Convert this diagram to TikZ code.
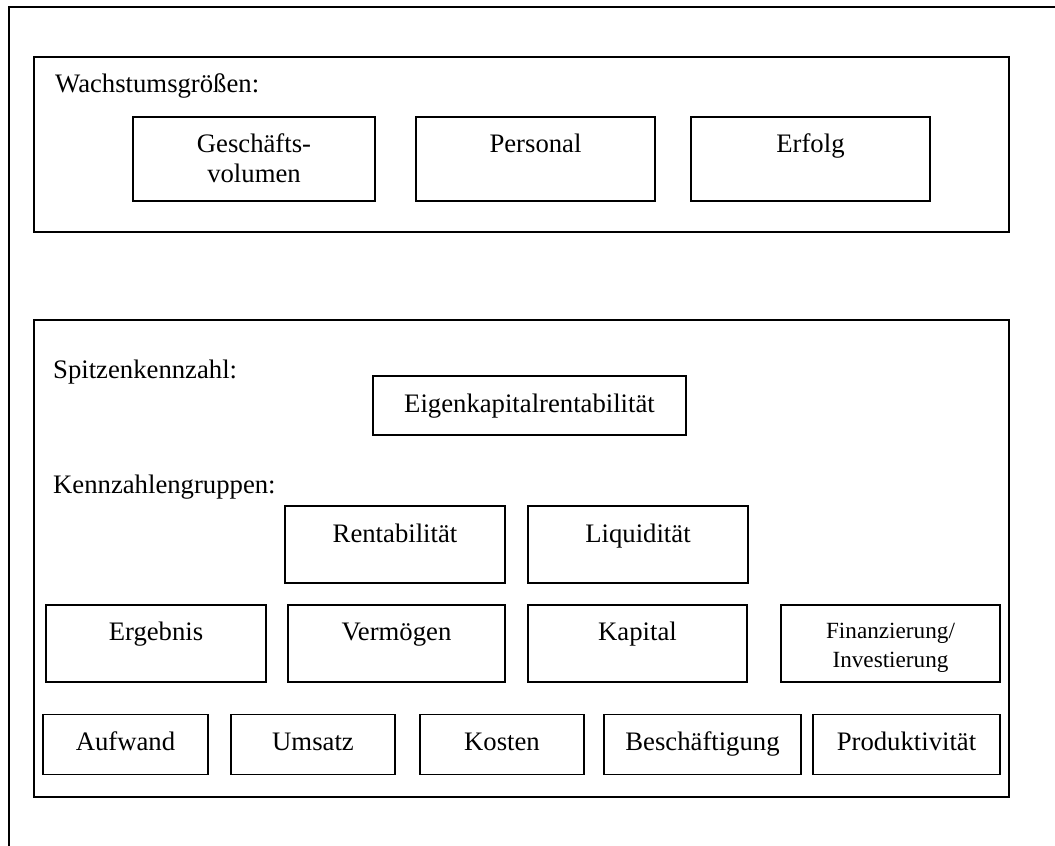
\documentclass[tikz,border=0pt]{standalone}
\usepackage{fontspec}
\setmainfont{Liberation Serif}
\begin{document}
\begin{tikzpicture}[x=1pt,y=-1pt,
  frame/.style={line width=2pt},
  box/.style={draw,line width=1.8pt,inner sep=0pt,outer sep=0pt},
  txt/.style={anchor=base,inner sep=0pt,font=\fontsize{26.7}{30}\selectfont},
  smalltxt/.style={anchor=base,inner sep=0pt,font=\fontsize{23.2}{29}\selectfont},
  lbl/.style={anchor=base west,inner sep=0pt,font=\fontsize{26.7}{30}\selectfont}]
\useasboundingbox (0,0) rectangle (1055,846);
% outer frame (open at right and bottom)
\draw[frame] (9,846) -- (9,7) -- (1056,7);
% group boxes
\node[box,minimum width=975pt,minimum height=175pt] (wbox) at (521.5,144.5) {};
\node[box,minimum width=975pt,minimum height=477pt] (kbox) at (521.5,558.5) {};
% labels
\node[lbl] (lw) at (55,92) {Wachstumsgrößen:};
\node[lbl] (ls) at (53,378) {Spitzenkennzahl:};
\node[lbl] (lk) at (53,493) {Kennzahlengruppen:};
% Wachstumsgrößen
\node[box,minimum width=242pt,minimum height=84pt] (gv) at (254,159) {};
\node[txt] (gvt1) at (254,152) {Geschäfts-};
\node[txt] (gvt2) at (254,182) {volumen};
\node[box,minimum width=239pt,minimum height=84pt] (pe) at (535.5,159) {};
\node[txt] (pet) at (535.5,152) {Personal};
\node[box,minimum width=239pt,minimum height=84pt] (er) at (810.5,159) {};
\node[txt] (ert) at (810.5,152) {Erfolg};
% Spitzenkennzahl
\node[box,minimum width=313pt,minimum height=59pt] (ek) at (529.5,405.5) {};
\node[txt] (ekt) at (529.5,412) {Eigenkapitalrentabilität};
% row 1
\node[box,minimum width=220pt,minimum height=77pt] (re) at (395,544.5) {};
\node[txt] (ret) at (395,542) {Rentabilität};
\node[box,minimum width=220pt,minimum height=77pt] (li) at (638,544.5) {};
\node[txt] (lit) at (638,542) {Liquidität};
% row 2
\node[box,minimum width=220pt,minimum height=77pt] (eg) at (156,643.5) {};
\node[txt] (egt) at (156,640) {Ergebnis};
\node[box,minimum width=217pt,minimum height=77pt] (ve) at (396.5,643.5) {};
\node[txt] (vet) at (396.5,640) {Vermögen};
\node[box,minimum width=219pt,minimum height=77pt] (ka) at (637.5,643.5) {};
\node[txt] (kat) at (637.5,640) {Kapital};
\node[box,minimum width=219pt,minimum height=77pt] (fi) at (890.5,643.5) {};
\node[smalltxt] (fit1) at (890.5,638) {Finanzierung/};
\node[smalltxt] (fit2) at (890.5,667) {Investierung};
% row 3
\node[box,minimum width=165pt,minimum height=60pt] (au) at (125.5,744.5) {};
\node[txt] (aut) at (125.5,750) {Aufwand};
\node[box,minimum width=164pt,minimum height=60pt] (um) at (313,744.5) {};
\node[txt] (umt) at (313,750) {Umsatz};
\node[box,minimum width=164pt,minimum height=60pt] (ko) at (502,744.5) {};
\node[txt] (kot) at (502,750) {Kosten};
\node[box,minimum width=197pt,minimum height=60pt] (be) at (702.5,744.5) {};
\node[txt] (bet) at (702.5,750) {Beschäftigung};
\node[box,minimum width=187pt,minimum height=60pt] (pr) at (906.5,744.5) {};
\node[txt] (prt) at (906.5,750) {Produktivität};
\end{tikzpicture}
\end{document}
